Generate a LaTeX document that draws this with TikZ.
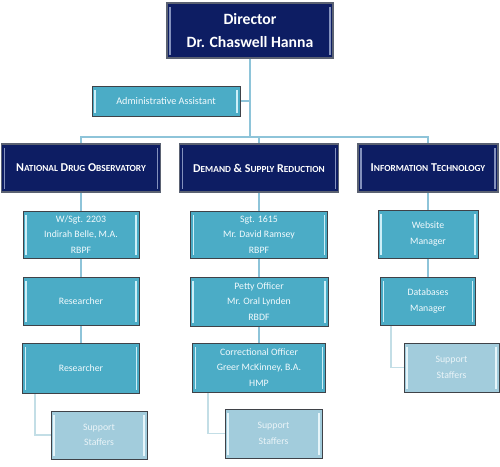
\documentclass[tikz,border=0pt]{standalone}
\usepackage{fontspec}
\setmainfont{Carlito}
\usetikzlibrary{backgrounds}
\definecolor{navy}{HTML}{0D1D63}
\definecolor{teal}{HTML}{4BACC6}
\definecolor{supp}{HTML}{A2CCDC}
\definecolor{edge}{HTML}{3F4248}
\definecolor{navyedge}{HTML}{5B6272}
\definecolor{navyhl}{HTML}{8391BD}
\definecolor{tealhl}{HTML}{CDEFF8}
\definecolor{supphl}{HTML}{E6F5FA}
\definecolor{conn}{HTML}{8EC4D9}
\definecolor{sconn}{HTML}{C3DEE6}
\definecolor{txt}{HTML}{F2FAFD}
\definecolor{stxt}{HTML}{EAF4F8}
\newcommand\fsc[2]{#1{\fontsize{9.3}{11}\selectfont #2}}
\tikzset{
  bevel/.style={path picture={
    \fill[#1] ([xshift=2.2pt,yshift=-3.5pt]path picture bounding box.north west) rectangle ([xshift=3.8pt,yshift=3.5pt]path picture bounding box.south west);
    \fill[#1] ([xshift=-2.2pt,yshift=-3.5pt]path picture bounding box.north east) rectangle ([xshift=-3.8pt,yshift=3.5pt]path picture bounding box.south east);
  }},
  basebox/.style={rectangle, inner sep=0pt, align=center, line width=0.9pt},
  navybox/.style={basebox, fill=navy, draw=navyedge, line width=1.3pt, bevel=navyhl, text=white,
    font=\fontsize{12}{14}\selectfont\bfseries},
  tealbox/.style={basebox, fill=teal, draw=edge, bevel=tealhl, text=txt,
    font=\fontsize{9.8}{15.5}\selectfont},
  suppbox/.style={basebox, fill=supp, draw=edge, bevel=supphl, text=stxt,
    font=\fontsize{9.8}{15.5}\selectfont},
  mainline/.style={draw=conn, line width=1.4pt},
  subline/.style={draw=sconn, line width=1.4pt},
}
\begin{document}
\begin{tikzpicture}[x=1pt,y=-1pt]
\useasboundingbox (0,0) rectangle (500,466);
\coordinate (bar) at (250,137);
% boxes
\node[navybox, minimum width=166pt, minimum height=55pt, font=\fontsize{15.7}{23}\selectfont\bfseries] (dir) at (250,30.5) {Director\\Dr. Chaswell Hanna};
\node[tealbox, minimum width=148pt, minimum height=30pt, font=\fontsize{10.2}{12}\selectfont] (admin) at (166,101) {Administrative Assistant};
\node[navybox, minimum width=159pt, minimum height=48pt] (ndo) at (81,168) {\fsc{N}{ATIONAL} \fsc{D}{RUG} \fsc{O}{BSERVATORY}};
\node[navybox, minimum width=159pt, minimum height=48pt] (dsr) at (259,168) {\fsc{D}{EMAND} \& \fsc{S}{UPPLY} \fsc{R}{EDUCTION}};
\node[navybox, minimum width=140pt, minimum height=48pt] (it) at (428,168) {\fsc{I}{NFORMATION} \fsc{T}{ECHNOLOGY}};
% NDO column
\node[tealbox, minimum width=116pt, minimum height=47pt] (ndo1) at (81,234.5) {W/Sgt. 2203\\Indirah Belle, M.A.\\RBPF};
\node[tealbox, minimum width=116pt, minimum height=48pt] (ndo2) at (81,301) {Researcher};
\node[tealbox, minimum width=117pt, minimum height=50pt] (ndo3) at (81,368) {Researcher};
\node[suppbox, minimum width=96pt, minimum height=48pt] (ndoS) at (99,435) {Support\\Staffers};
% DSR column
\node[tealbox, minimum width=137pt, minimum height=47pt] (dsr1) at (259,234.5) {Sgt. 1615\\Mr. David Ramsey\\RBPF};
\node[tealbox, minimum width=138pt, minimum height=49pt] (dsr2) at (259,301.5) {Petty Officer\\Mr. Oral Lynden\\RBDF};
\node[tealbox, minimum width=133pt, minimum height=49pt] (dsr3) at (259,367.5) {Correctional Officer\\Greer McKinney, B.A.\\HMP};
\node[suppbox, minimum width=97pt, minimum height=49pt] (dsrS) at (273.5,433.5) {Support\\Staffers};
% IT column
\node[tealbox, minimum width=100pt, minimum height=48pt] (it1) at (428,234) {Website\\Manager};
\node[tealbox, minimum width=95pt, minimum height=48pt] (it2) at (428,301) {Databases\\Manager};
\node[suppbox, minimum width=95pt, minimum height=49pt] (itS) at (451.5,367.5) {Support\\Staffers};
% connectors behind
\begin{pgfonlayer}{background}
\fill[white] (0,0) rectangle (500,466);
\draw[mainline] (dir.south) -- (bar);
\draw[mainline] (admin.east) -| (bar);
\draw[mainline] (ndo.north) |- (bar) -| (it.north);
\draw[mainline] (dsr.north) -- (dsr.north |- bar);
\draw[mainline] (ndo.south) -- (ndo1.north);
\draw[mainline] (ndo1.south) -- (ndo2.north);
\draw[mainline] (ndo2.south) -- (ndo3.north);
\draw[mainline] (dsr.south) -- (dsr1.north);
\draw[mainline] (dsr1.south) -- (dsr2.north);
\draw[mainline] (dsr2.south) -- (dsr3.north);
\draw[mainline] (it.south) -- (it1.north);
\draw[mainline] (it1.south) -- (it2.north);
\draw[subline] ([xshift=-46pt]ndo3.south) |- (ndoS.west);
\draw[subline] ([xshift=-51pt]dsr3.south) |- (dsrS.west);
\draw[subline] ([xshift=-37pt]it2.south) |- (itS.west);
\end{pgfonlayer}
\end{tikzpicture}
\end{document}
